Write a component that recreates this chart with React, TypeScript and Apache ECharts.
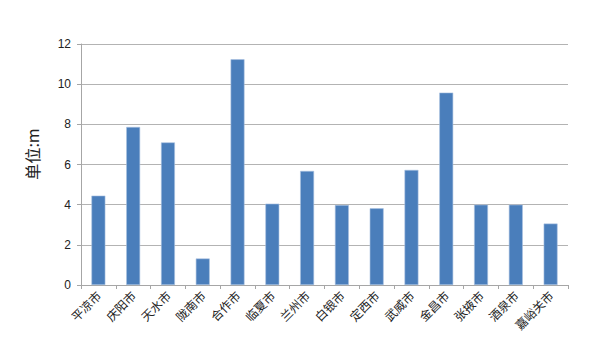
import React, { useEffect, useRef } from "react";
import * as echarts from "echarts";

const cities = ["平凉市", "庆阳市", "天水市", "陇南市", "合作市", "临夏市", "兰州市", "白银市", "定西市", "武威市", "金昌市", "张掖市", "酒泉市", "嘉峪关市"];
const values = [4.45, 7.87, 7.1, 1.32, 11.24, 4.05, 5.68, 3.98, 3.82, 5.73, 9.58, 4.0, 4.0, 3.06];
const yTicks = { min: 0, max: 12, interval: 2 };
const yName = "单位:m";

const FONT = "'Liberation Sans', 'Noto Sans CJK SC', sans-serif";

export default function App() {
  const ref = useRef<HTMLDivElement>(null);
  useEffect(() => {
    if (!ref.current) return;
    const chart = echarts.init(ref.current, undefined, { renderer: "svg" });
    chart.setOption({
      animation: false,
      backgroundColor: "#ffffff",
      grid: { left: 81, right: 39, top: 44, bottom: 78, containLabel: false },
      graphic: [
        {
          type: "text",
          x: 32,
          y: 154,
          rotation: Math.PI / 2,
          style: {
            text: yName,
            fontSize: 16,
            fill: "#222",
            fontFamily: "'Noto Sans CJK SC', sans-serif",
            align: "center",
            verticalAlign: "middle",
          },
        },
      ],
      xAxis: {
        type: "category",
        data: cities,
        axisLine: { show: true, lineStyle: { color: "#a6a6a6", width: 1 } },
        axisTick: { show: true, alignWithLabel: false, length: 4, lineStyle: { color: "#a6a6a6" } },
        axisLabel: {
          rotate: 45,
          interval: 0,
          margin: 8,
          color: "#222",
          fontSize: 12,
          fontFamily: "'Noto Sans CJK SC', sans-serif",
        },
        splitLine: { show: false },
      },
      yAxis: {
        type: "value",
        min: yTicks.min,
        max: yTicks.max,
        interval: yTicks.interval,
        axisLine: { show: true, lineStyle: { color: "#a6a6a6", width: 1 } },
        axisTick: { show: true, length: 4, lineStyle: { color: "#a6a6a6" } },
        axisLabel: { color: "#222", fontSize: 12, margin: 10, fontFamily: FONT },
        splitLine: { show: true, lineStyle: { color: "#b3b3b3", width: 1 } },
      },
      series: [
        {
          type: "bar",
          data: values,
          barWidth: "40%",
          itemStyle: { color: "#4a7ebb", borderColor: "#a9c1e0", borderWidth: 0.6 },
        },
      ],
    });
    return () => chart.dispose();
  }, []);
  return <div ref={ref} style={{ position: "fixed", left: 0, top: 0, width: 607, height: 363 }} />;
}
